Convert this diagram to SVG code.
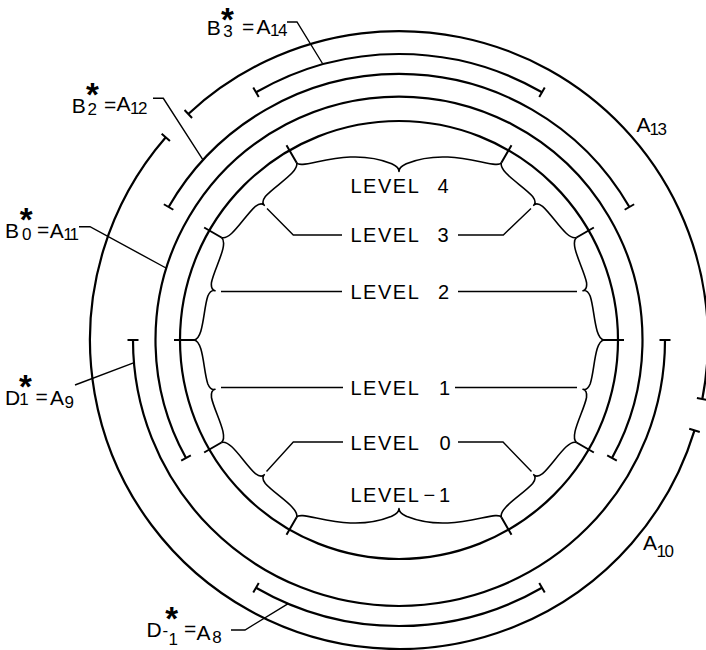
<svg xmlns="http://www.w3.org/2000/svg" width="706" height="650" viewBox="0 0 706 650">
<style>
  .ring{fill:none;stroke:#000;stroke-width:2.2}
  .tick{fill:none;stroke:#000;stroke-width:2}
  .brace{fill:none;stroke:#000;stroke-width:1.6;stroke-linejoin:round}
  .lead{fill:none;stroke:#000;stroke-width:1.4}
  text{font-family:"Liberation Sans",Arial,sans-serif;fill:#000}
  .lvl{font-size:20px;letter-spacing:1.5px}
  .lbl{font-size:21px}
  .sub{font-size:17px}
  .star{font-size:33px;font-weight:bold}
</style>
<defs>
  <!-- curly braces drawn along a chord of the inner circle; local y points to the centre -->
  <path id="brace30" d="M0 0C4 9 31.8 1 46.06 2C49.5 2.5 53.06 3.5 53.06 7.5C53.06 3.5 56.62 2.5 60.06 2C74.32 1 102.12 9 106.12 0"/>
  <path id="brace60" d="M0 0C4 9 50 -17 94.5 1C98 2.8 102.5 4 102.5 9C102.5 4 107 2.8 110.5 1C155 -17 201 9 205 0"/>
</defs>
<rect width="706" height="650" fill="#fff"/>

<!-- concentric rings, centre (399,340) -->
<g id="rings">
  <g id="inner-circle">
    <circle class="ring" cx="399" cy="340" r="219"/>
  </g>
  <g id="arc-B0">
    <path class="ring" d="M186 458.05A243.5 243.5 0 1 1 612 458.05"/>
    <path class="tick" d="M181.19 460.72L190.81 455.38M616.81 460.72L607.19 455.38"/>
  </g>
  <g id="arc-B2">
    <path class="ring" d="M168.6 207A266 266 0 0 1 629.4 207"/>
    <path class="tick" d="M163.84 204.25L173.36 209.75M634.16 204.25L624.64 209.75"/>
  </g>
  <g id="arc-D1">
    <path class="ring" d="M133 340A266 266 0 0 0 665 340"/>
    <path class="tick" d="M127.5 340H138.5M659.5 340H670.5"/>
  </g>
  <g id="arc-B3">
    <path class="ring" d="M256 92.3A286 286 0 0 1 542 92.3"/>
    <path class="tick" d="M253.25 87.54L258.75 97.06M544.75 87.54L539.25 97.06"/>
  </g>
  <g id="arc-Dm1">
    <path class="ring" d="M256 587.7A286 286 0 0 0 542 587.7"/>
    <path class="tick" d="M253.25 592.46L258.75 582.94M544.75 592.46L539.25 582.94"/>
  </g>
  <g id="arc-A13">
    <path class="ring" d="M188.3 114A309 309 0 0 1 702.3 398.96"/>
    <path class="tick" d="M184.55 109.98L192.05 118.02M696.9 397.9L707.7 400"/>
  </g>
  <g id="arc-A10">
    <path class="ring" d="M165.8 137.3A309 309 0 1 0 694.5 430.35"/>
    <path class="tick" d="M161.65 133.7L169.95 140.9M689.24 428.74L699.76 431.96"/>
  </g>
</g>

<!-- level divisions on the inner circle -->
<g id="level-ticks" class="tick">
  <path d="M604 340H624M576.54 237.5L593.86 227.5M501.5 162.46L511.5 145.14M296.5 162.46L286.5 145.14M221.46 237.5L204.14 227.5M194 340H174M221.46 442.5L204.14 452.5M296.5 517.54L286.5 534.86M501.5 517.54L511.5 534.86M576.54 442.5L593.86 452.5"/>
</g>

<g id="braces" class="brace">
  <use href="#brace60" transform="translate(296.5 162.46)"/>
  <use href="#brace30" transform="translate(501.5 162.46) rotate(45)"/>
  <use href="#brace30" transform="translate(576.54 237.5) rotate(75)"/>
  <use href="#brace30" transform="translate(604 340) rotate(105)"/>
  <use href="#brace30" transform="translate(576.54 442.5) rotate(135)"/>
  <use href="#brace60" transform="translate(501.5 517.54) rotate(180)"/>
  <use href="#brace30" transform="translate(296.5 517.54) rotate(225)"/>
  <use href="#brace30" transform="translate(221.46 442.5) rotate(255)"/>
  <use href="#brace30" transform="translate(194 340) rotate(285)"/>
  <use href="#brace30" transform="translate(221.46 237.5) rotate(315)"/>
</g>

<g id="connectors" class="lead">
  <path d="M287 22H297L322.5 63.5"/>
  <path d="M153 98.3H163.3L202.8 159.6"/>
  <path d="M79 226.7H90L166 268"/>
  <path d="M75 385L133.5 362.8"/>
  <path d="M231 630H245L288.2 603.7"/>
  <path d="M267 208.5L293.3 235H342"/>
  <path d="M531 208.5L503.3 235H458"/>
  <path d="M221 291.5H342"/>
  <path d="M458 291.5H577"/>
  <path d="M221 387.5H343"/>
  <path d="M455 387.5H577"/>
  <path d="M266.5 471.5L293.3 442H343"/>
  <path d="M531.5 471.5L503 442H458"/>
</g>

<g id="level-labels">
  <text class="lvl" x="350.5" y="193">LEVEL <tspan x="437.5">4</tspan></text>
  <text class="lvl" x="350.5" y="241.5">LEVEL <tspan x="437.5">3</tspan></text>
  <text class="lvl" x="350.5" y="298.5">LEVEL <tspan x="438">2</tspan></text>
  <text class="lvl" x="350.5" y="395">LEVEL <tspan x="439">1</tspan></text>
  <text class="lvl" x="350.5" y="450">LEVEL <tspan x="439.5">0</tspan></text>
  <text class="lvl" x="350.5" y="502">LEVEL<tspan x="423.5">−</tspan><tspan x="439">1</tspan></text>
</g>

<g id="ring-labels" class="lbl">
  <g id="label-B3">
    <text><tspan x="206.7" y="35">B</tspan><tspan class="star" x="221" y="30.5">*</tspan><tspan class="sub" x="223.3" y="37">3 </tspan><tspan x="242" y="34">=</tspan><tspan x="256.5" y="34">A</tspan><tspan class="sub" x="270" y="36" letter-spacing="-1.5">14</tspan></text>
  </g>
  <g id="label-B2">
    <text><tspan x="71.7" y="113">B</tspan><tspan class="star" x="85.9" y="106">*</tspan><tspan class="sub" x="87.5" y="115">2 </tspan><tspan x="104" y="112">=</tspan><tspan x="116.5" y="111">A</tspan><tspan class="sub" x="130" y="114" letter-spacing="-1.5">12</tspan></text>
  </g>
  <g id="label-B0">
    <text><tspan x="5" y="238">B</tspan><tspan class="star" x="19.7" y="231">*</tspan><tspan class="sub" x="22" y="239.5">0 </tspan><tspan x="37" y="237">=</tspan><tspan x="49.8" y="238">A</tspan><tspan class="sub" x="63.2" y="239.5" letter-spacing="-2">11</tspan></text>
  </g>
  <g id="label-D1">
    <text><tspan x="5" y="405">D</tspan><tspan class="star" x="18.9" y="398">*</tspan><tspan class="sub" x="19.3" y="404.5">1 </tspan><tspan x="35.5" y="404">=</tspan><tspan x="50" y="405">A</tspan><tspan class="sub" x="64.5" y="408">9</tspan></text>
  </g>
  <g id="label-Dm1">
    <text><tspan x="146.5" y="637">D</tspan><tspan class="star" x="165.2" y="630">*</tspan><tspan class="sub" x="162.5" y="636">-</tspan><tspan class="sub" x="168.5" y="645">1 </tspan><tspan x="184" y="636">=</tspan><tspan x="196.5" y="640">A</tspan><tspan class="sub" x="212.3" y="643">8</tspan></text>
  </g>
  <g id="label-A13">
    <text><tspan x="636.5" y="132">A</tspan><tspan class="sub" x="649.5" y="135" letter-spacing="-1.5">13</tspan></text>
  </g>
  <g id="label-A10">
    <text><tspan x="643" y="550">A</tspan><tspan class="sub" x="656.5" y="556.5" letter-spacing="-1.5">10</tspan></text>
  </g>
</g>
</svg>
